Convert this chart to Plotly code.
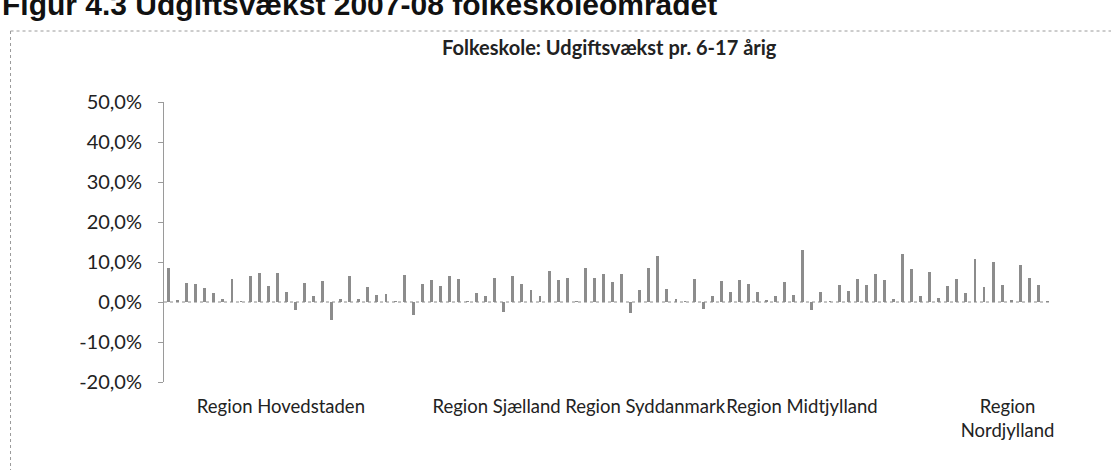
import plotly.graph_objects as go

# ---- data (percent) ----
region_names = ["Region Hovedstaden", "Region Sjælland", "Region Syddanmark",
                "Region Midtjylland", "Region Nordjylland"]
hovedstaden = [8.6, 0.5, 4.8, 4.4, 3.4, 2.3, 0.7, 5.8, 0.2, 6.5, 7.2, 4.0, 7.3, 2.6,
               -2.0, 4.8, 1.5, 5.2, -4.4, 0.7, 6.4, 0.8, 3.7, 1.8, 2.0, 0.2, 6.7,
               -3.3, 4.6]
sjaelland = [5.4, 3.9, 6.4, 5.8, 0.2, 2.3, 1.4, 6.0, -2.5, 6.4, 4.6, 3.1, 1.5, 7.8,
             5.4, 6.0, 0.2]
syddanmark = [8.5, 6.0, 6.9, 5.0, 6.9, -2.7, 2.9, 8.4, 11.5, 3.2, 0.7, 0.2, 5.7,
              -1.8, 1.5, 5.2, 2.5, 5.4, 4.6, 2.5, 0.5, 1.5]
midtjylland = [5.0, 1.7, 12.9, -2.1, 2.5, 0.2, 4.3, 2.7, 5.8, 4.2, 7.1, 5.4, 0.8,
               12.1, 8.3, 1.4, 7.5, 1.0, 3.9]
nordjylland = [5.8, 2.2, 10.8, 3.7, 10.0, 4.2, 0.6, 9.2, 6.0, 4.3, 0.2]
y_ticks = [-20, -10, 0, 10, 20, 30, 40, 50]

series = [hovedstaden, sjaelland, syddanmark, midtjylland, nordjylland]
values = [v for s in series for v in s]
xs = list(range(len(values)))
y_ticktext = [f"{t:.1f}%".replace(".", ",") for t in y_ticks]

# ---- layout constants (pixels) ----
W, H = 1111, 470
L, R = 163.5, 1051.6
T, B = 102, 382
label_pos = [12.4, 36.2, 52.6, 69.9, 92.6]   # where the region labels sit on the axis
label_text = [n if "Nord" not in n else "Region<br>Nordjylland" for n in region_names]

def px(xp):
    return (xp - L) / (R - L)

def py(yp):
    return (B - yp) / (B - T)

font = "Lato, 'Open Sans', sans-serif"

fig = go.Figure(go.Bar(x=xs, y=values, width=0.32,
                       marker=dict(color="#8c8c8c", line=dict(width=0))))

fig.update_layout(
    width=W, height=H,
    margin=dict(l=L, r=W - R, t=T, b=H - B, pad=0, autoexpand=False),
    plot_bgcolor="white", paper_bgcolor="white",
    showlegend=False,
    font=dict(family=font, size=20, color="#222"),
    bargap=0,
)
fig.update_xaxes(range=[-0.5, len(values) - 0.5], showgrid=False, zeroline=False,
                 showline=False, ticks="", tickvals=label_pos, ticktext=label_text,
                 tickangle=0, automargin=False,
                 tickfont=dict(size=18.5, family=font, color="#222"),
                 ticklabelstandoff=11)
fig.update_yaxes(range=[-20, 50], tickvals=y_ticks, ticktext=y_ticktext,
                 showgrid=False, zeroline=False, showline=True, linecolor="#9a9a9a",
                 linewidth=1, ticks="outside", ticklen=5, tickcolor="#9a9a9a",
                 automargin=False,
                 tickfont=dict(size=20, family=font, color="#222"),
                 ticklabelstandoff=12)

# zero baseline (dotted)
fig.add_shape(type="line", xref="x", yref="y", x0=-0.5, x1=len(values) - 0.5,
              y0=0, y1=0, line=dict(color="#8a8a8a", width=1, dash="dot"))

# chart area border (top and left visible)
fig.add_shape(type="line", xref="paper", yref="paper", x0=px(10), x1=px(1111),
              y0=py(31), y1=py(31), line=dict(color="#9a9a9a", width=1, dash="dot"))
fig.add_shape(type="line", xref="paper", yref="paper", x0=px(10), x1=px(10),
              y0=py(31), y1=py(470), line=dict(color="#9a9a9a", width=1, dash="dot"))

# chart title
fig.add_annotation(text="<b>Folkeskole: Udgiftsvækst pr. 6-17 årig</b>",
                   xref="paper", yref="paper", x=px(609), y=py(47),
                   xanchor="center", yanchor="middle", showarrow=False,
                   font=dict(size=20, family=font, color="#222"))

# figure caption (cut at the top of the scan)
fig.add_annotation(text="<b>Figur 4.3 Udgiftsvækst 2007-08 folkeskoleområdet</b>",
                   xref="paper", yref="paper", x=px(-1), y=py(5),
                   xanchor="left", yanchor="middle", showarrow=False,
                   font=dict(size=30, family="Liberation Sans, Arial, sans-serif",
                             color="#111"))

fig.write_html("out.html", config={"displayModeBar": False},
               post_script="document.body.style.margin='0';"
                           "document.body.style.overflow='hidden';")
